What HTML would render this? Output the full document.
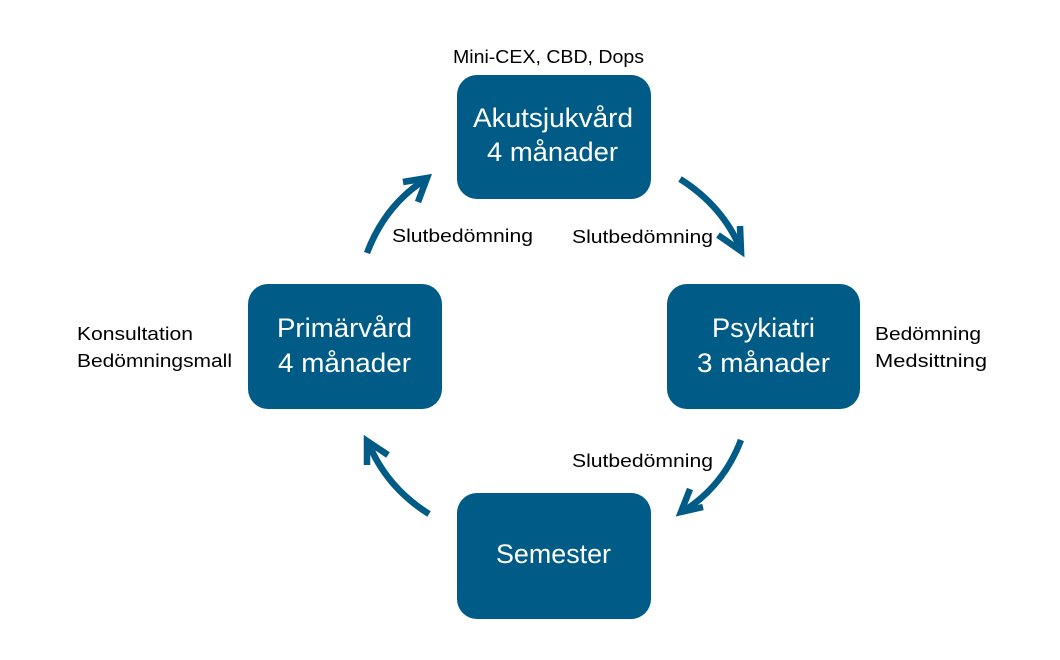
<!DOCTYPE html>
<html>
<head>
<meta charset="utf-8">
<style>
  html, body { margin:0; padding:0; background:#ffffff; }
  svg { display:block; }
  .lbl { font-family:"Liberation Sans", sans-serif; font-size:18.5px; fill:#000; }
  .box { font-family:"Liberation Sans", sans-serif; font-size:26.5px; fill:#fff; }
</style>
</head>
<body>
<svg width="1060" height="660" viewBox="0 0 1060 660" xmlns="http://www.w3.org/2000/svg">
  <rect x="0" y="0" width="1060" height="660" fill="#ffffff"/>

  <!-- Boxes -->
  <rect x="457" y="75" width="194" height="124" rx="20" ry="20" fill="#015b87"/>
  <rect x="248" y="284" width="194" height="125" rx="20" ry="20" fill="#015b87"/>
  <rect x="667" y="284" width="193" height="125" rx="20" ry="20" fill="#015b87"/>
  <rect x="457" y="493" width="194" height="126" rx="20" ry="20" fill="#015b87"/>

  <!-- Box text -->
  <text class="box" x="473" y="127" textLength="160" lengthAdjust="spacingAndGlyphs">Akutsjukvård</text>
  <text class="box" x="487" y="161" textLength="131" lengthAdjust="spacingAndGlyphs">4 månader</text>

  <text class="box" x="277" y="337" textLength="135" lengthAdjust="spacingAndGlyphs">Primärvård</text>
  <text class="box" x="278" y="372" textLength="133" lengthAdjust="spacingAndGlyphs">4 månader</text>

  <text class="box" x="712" y="337" textLength="103" lengthAdjust="spacingAndGlyphs">Psykiatri</text>
  <text class="box" x="697" y="372" textLength="133" lengthAdjust="spacingAndGlyphs">3 månader</text>

  <text class="box" x="496" y="563" textLength="115" lengthAdjust="spacingAndGlyphs">Semester</text>

  <!-- Labels -->
  <text class="lbl" x="453" y="63" textLength="191" lengthAdjust="spacingAndGlyphs">Mini-CEX, CBD, Dops</text>
  <text class="lbl" x="77" y="340" textLength="116" lengthAdjust="spacingAndGlyphs">Konsultation</text>
  <text class="lbl" x="77" y="367" textLength="155" lengthAdjust="spacingAndGlyphs">Bedömningsmall</text>
  <text class="lbl" x="875" y="340" textLength="106" lengthAdjust="spacingAndGlyphs">Bedömning</text>
  <text class="lbl" x="875" y="367" textLength="112" lengthAdjust="spacingAndGlyphs">Medsittning</text>
  <text class="lbl" x="392" y="242" textLength="141" lengthAdjust="spacingAndGlyphs">Slutbedömning</text>
  <text class="lbl" x="572" y="243" textLength="141" lengthAdjust="spacingAndGlyphs">Slutbedömning</text>
  <text class="lbl" x="572" y="467" textLength="141" lengthAdjust="spacingAndGlyphs">Slutbedömning</text>

  <!-- Arrows -->
  <g fill="none" stroke="#015b87" stroke-width="6.5" stroke-linecap="butt" stroke-linejoin="miter">
    <!-- top-right -->
    <path d="M680,179 Q723,206 741,250"/>
    <path d="M740,226 L741,251 L718,235"/>
    <!-- top-left -->
    <path d="M367,253 Q385,205 426,179"/>
    <path d="M403,182 L427,178 L418,202"/>
    <!-- bottom-right -->
    <path d="M741,440 Q723,487 682,512"/>
    <path d="M690,489 L681,512 L703,507"/>
    <!-- bottom-left -->
    <path d="M429,514 Q386,487 368,442"/>
    <path d="M367,465 L367,441 L388,455"/>
  </g>
</svg>
</body>
</html>
